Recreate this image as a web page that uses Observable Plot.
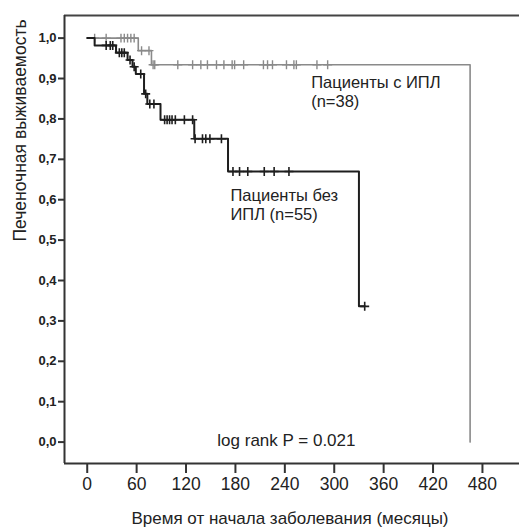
<!DOCTYPE html>
<html>
<head>
<meta charset="utf-8">
<script src="https://cdn.jsdelivr.net/npm/d3@7"></script>
<script src="https://cdn.jsdelivr.net/npm/@observablehq/plot@0.6"></script>
<style>
  html, body { margin: 0; padding: 0; background: #fff; }
  #chart { width: 519px; height: 527px; }
</style>
</head>
<body>
<div id="chart"></div>
<script>
// ---- Data (months, survival proportion) ----
// Patients with IPL (n=38): step times and survival after each step
const iplTimes = [0, 62, 78, 465];
const iplSurv  = [1.0, 0.969, 0.934, 0.0];
const iplCensored = [9, 23, 41, 45, 49, 53, 57, 66, 75, 80, 82, 110, 128, 138, 146, 157, 166, 176, 179, 190, 214, 219, 225, 242, 251, 254, 279, 292];

// Patients without IPL (n=55)
const noIplTimes = [0, 9, 35, 49, 55, 59, 69, 73, 89, 130, 171, 330];
const noIplSurv  = [1.0, 0.982, 0.964, 0.946, 0.929, 0.911, 0.862, 0.837, 0.798, 0.751, 0.670, 0.336];
const noIplEnd = 337;
const noIplCensored = [23, 28, 31, 39, 42, 45, 52, 57, 65, 71, 76, 81, 94, 97, 100, 103, 107, 118, 128, 131, 140, 144, 149, 163, 177, 185, 195, 215, 227, 245, 337];

const xTicks = [0, 60, 120, 180, 240, 300, 360, 420, 480];
const yTicks = [0, 0.1, 0.2, 0.3, 0.4, 0.5, 0.6, 0.7, 0.8, 0.9, 1.0];

const labelIpl = ["Пациенты с ИПЛ", "(n=38)"];
const labelNoIpl = ["Пациенты без", "ИПЛ (n=55)"];
const labelLogRank = "log rank P = 0.021";
const xTitle = "Время от начала заболевания (месяцы)";
const yTitle = "Печеночная выживаемость";

// ---- build tables ----
function stepPoints(times, surv, end) {
  const pts = times.map((t, i) => ({t, s: surv[i]}));
  if (end != null) pts.push({t: end, s: surv[surv.length - 1]});
  return pts;
}
function survAt(times, surv, t) {
  let s = surv[0];
  for (let i = 0; i < times.length; i++) if (times[i] <= t) s = surv[i];
  return s;
}
const iplLine = stepPoints(iplTimes, iplSurv, null);
const noIplLine = stepPoints(noIplTimes, noIplSurv, noIplEnd);
const iplMarks = iplCensored.map(t => ({t, s: survAt(iplTimes, iplSurv, t)}));
const noIplMarks = noIplCensored.map(t => ({t, s: survAt(noIplTimes, noIplSurv, t)}));

const fmt = d => d.toFixed(1).replace(".", ",");
const font = "'Liberation Sans', Arial, sans-serif";
const grey = "#8a8a8a";
const dark = "#1e1e1e";
const xMin = -27.6, xMax = 525, yMin = -0.053, yMax = 1.056;
const lineStep = 0.0465; // one text line (≈18.8px) in survival units

const chart = Plot.plot({
  width: 519,
  height: 527,
  marginLeft: 64,
  marginRight: 0,
  marginTop: 15,
  marginBottom: 64,
  style: {fontFamily: font, background: "white", color: "#222", overflow: "visible"},
  x: {domain: [xMin, xMax]},
  y: {domain: [yMin, yMax]},
  marks: [
    Plot.axisX({ticks: xTicks, tickSize: 10, tickPadding: 4, fontSize: 17.5, strokeWidth: 2, label: null, stroke: "#333", fill: "#222"}),
    Plot.axisY({ticks: yTicks, tickSize: 6, tickPadding: 2, fontSize: 13, fontWeight: "bold", strokeWidth: 2, tickFormat: fmt, label: null, stroke: "#333", fill: "#222"}),
    Plot.ruleY([yMax], {stroke: "#444", strokeWidth: 2}),
    Plot.ruleY([yMin], {stroke: "#333", strokeWidth: 2}),
    Plot.ruleX([xMin], {stroke: "#333", strokeWidth: 2}),
    Plot.line(iplLine, {x: "t", y: "s", curve: "step-after", stroke: grey, strokeWidth: 1.6}),
    Plot.dot(iplMarks, {x: "t", y: "s", symbol: "plus", r: 3, stroke: grey, strokeWidth: 1.4}),
    Plot.line(noIplLine, {x: "t", y: "s", curve: "step-after", stroke: dark, strokeWidth: 2}),
    Plot.dot(noIplMarks, {x: "t", y: "s", symbol: "plus", r: 3, stroke: dark, strokeWidth: 1.6}),
    Plot.text(labelIpl, {x: 272, y: (d, i) => 0.905 - i * lineStep, text: d => d, textAnchor: "start", lineAnchor: "top", fontSize: 16.5, fill: "#222"}),
    Plot.text(labelNoIpl, {x: 174, y: (d, i) => 0.626 - i * lineStep, text: d => d, textAnchor: "start", lineAnchor: "top", fontSize: 16.5, fill: "#222"}),
    Plot.text([labelLogRank], {x: 158, y: 0.019, text: d => d, textAnchor: "start", lineAnchor: "top", fontSize: 17, fill: "#222"}),
    Plot.text([xTitle], {frameAnchor: "bottom", text: d => d, dy: 60, dx: -2, lineAnchor: "bottom", fontSize: 17, fill: "#222"}),
    Plot.text([yTitle], {frameAnchor: "left", text: d => d, dx: -44, dy: 2, rotate: -90, lineAnchor: "middle", fontSize: 17.5, fill: "#222"})
  ]
});
document.getElementById("chart").appendChild(chart);
</script>
</body>
</html>
